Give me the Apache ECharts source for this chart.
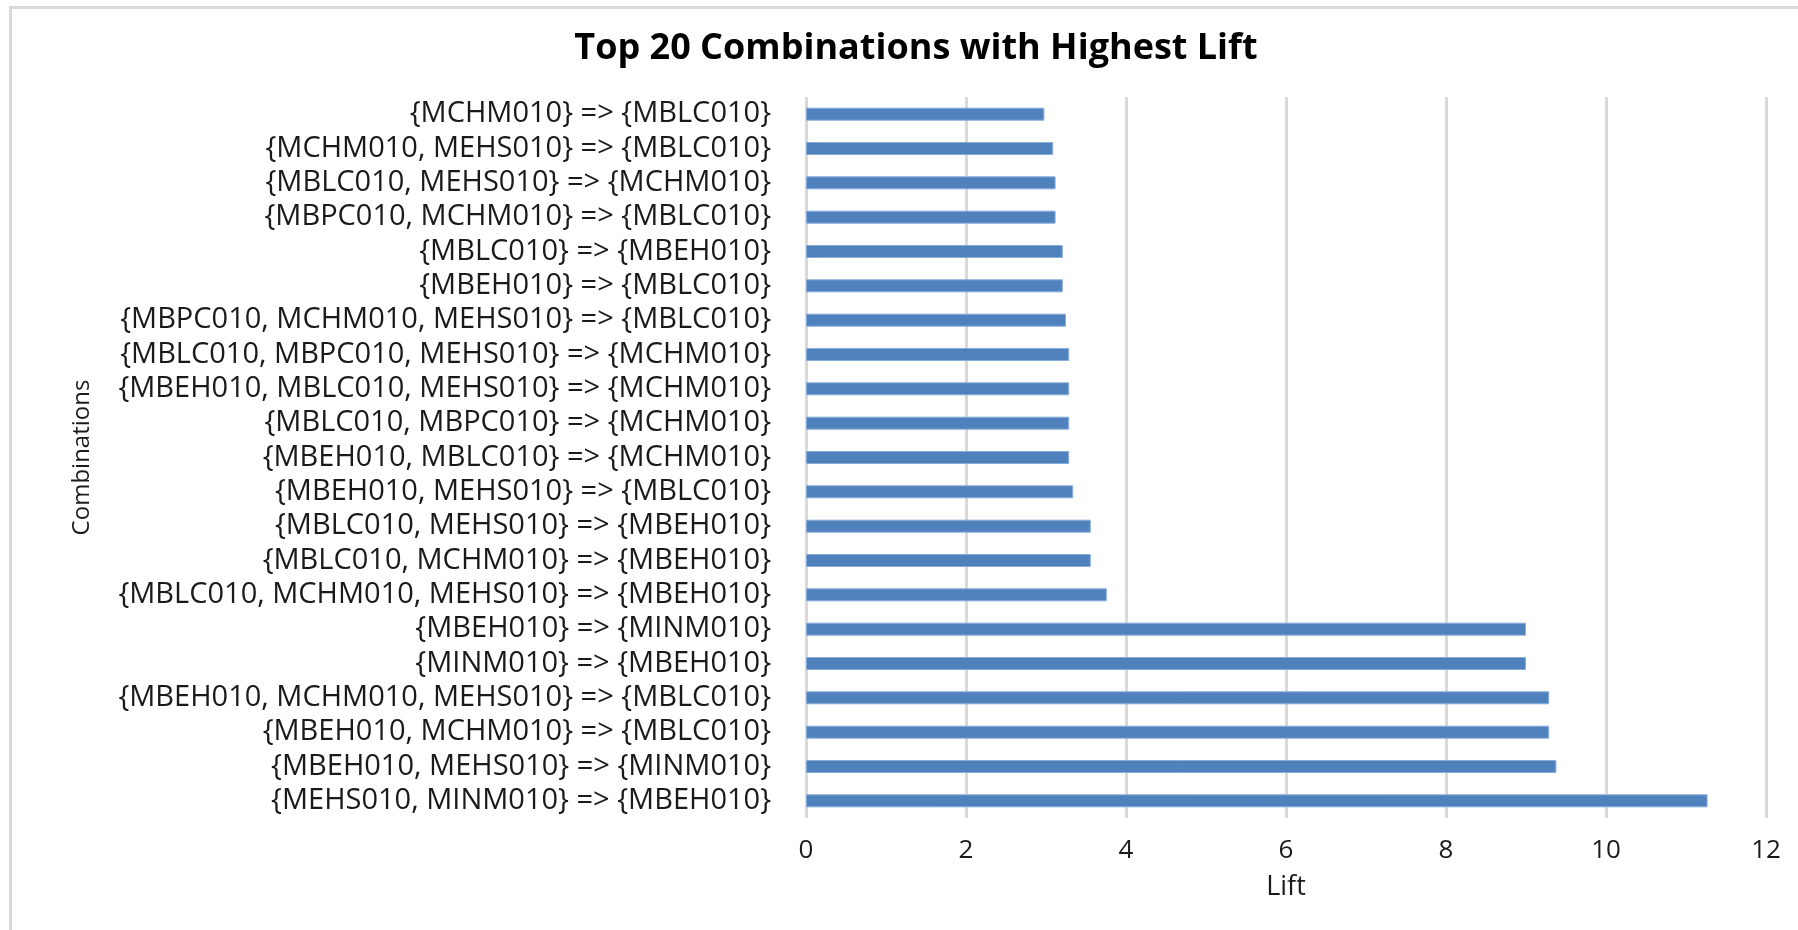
<!DOCTYPE html>
<html>
<head>
<meta charset="utf-8">
<title>Top 20 Combinations with Highest Lift</title>
<script src="https://cdn.jsdelivr.net/npm/echarts@6/dist/echarts.min.js"></script>
<style>
  html, body { margin: 0; padding: 0; background: #ffffff; }
  #chart { width: 1798px; height: 930px; }
</style>
</head>
<body>
<div id="chart"></div>
<script>
// Association rules, listed top to bottom as they appear on the axis
const rules = [
  '{MCHM010} => {MBLC010}',
  '{MCHM010, MEHS010} => {MBLC010}',
  '{MBLC010, MEHS010} => {MCHM010}',
  '{MBPC010, MCHM010} => {MBLC010}',
  '{MBLC010} => {MBEH010}',
  '{MBEH010} => {MBLC010}',
  '{MBPC010, MCHM010, MEHS010} => {MBLC010}',
  '{MBLC010, MBPC010, MEHS010} => {MCHM010}',
  '{MBEH010, MBLC010, MEHS010} => {MCHM010}',
  '{MBLC010, MBPC010} => {MCHM010}',
  '{MBEH010, MBLC010} => {MCHM010}',
  '{MBEH010, MEHS010} => {MBLC010}',
  '{MBLC010, MEHS010} => {MBEH010}',
  '{MBLC010, MCHM010} => {MBEH010}',
  '{MBLC010, MCHM010, MEHS010} => {MBEH010}',
  '{MBEH010} => {MINM010}',
  '{MINM010} => {MBEH010}',
  '{MBEH010, MCHM010, MEHS010} => {MBLC010}',
  '{MBEH010, MCHM010} => {MBLC010}',
  '{MBEH010, MEHS010} => {MINM010}',
  '{MEHS010, MINM010} => {MBEH010}'
];

// Lift of each rule, same order as above
const lift = [
  2.98, 3.09, 3.12, 3.12, 3.21, 3.21, 3.25, 3.29, 3.29, 3.29, 3.29,
  3.34, 3.56, 3.56, 3.76, 9.00, 9.00, 9.29, 9.29, 9.38, 11.27
];

const liftTicks = { min: 0, max: 12, interval: 2 };

const FONT = '"Open Sans", Lato, sans-serif';
const chart = echarts.init(document.getElementById('chart'), null, { renderer: 'canvas' });

chart.setOption({
  backgroundColor: '#ffffff',
  animation: false,
  title: {
    text: 'Top 20 Combinations with Highest Lift',
    left: 911,
    top: 26,
    textAlign: 'center',
    textStyle: { fontFamily: FONT, fontWeight: 'bold', fontSize: 36, color: '#000000' }
  },
  graphic: [{
    type: 'polyline',
    shape: { points: [[10.5, 940], [10.5, 7.5], [1800, 7.5]] },
    style: { stroke: '#d9d9d9', lineWidth: 3, fill: null },
    silent: true
  }],
  grid: { left: 806, right: 32, top: 97, bottom: 112, containLabel: false },
  xAxis: {
    type: 'value',
    min: liftTicks.min,
    max: liftTicks.max,
    interval: liftTicks.interval,
    name: 'Lift',
    nameLocation: 'middle',
    nameGap: 56,
    nameTextStyle: { fontFamily: FONT, fontSize: 27, color: '#1a1a1a' },
    axisLine: { show: false },
    axisTick: { show: false },
    axisLabel: { margin: 20, fontFamily: FONT, fontSize: 26, color: '#1a1a1a' },
    splitLine: { show: true, lineStyle: { color: '#d9d9d9', width: 3 } }
  },
  yAxis: {
    type: 'category',
    data: rules,
    inverse: true,
    name: 'Combinations',
    nameLocation: 'middle',
    nameGap: 712,
    nameRotate: 90,
    nameTextStyle: { fontFamily: FONT, fontSize: 24, color: '#1a1a1a' },
    axisLine: { show: false },
    axisTick: { show: false },
    axisLabel: {
      interval: 0,
      margin: 35,
      fontFamily: FONT,
      fontSize: 29,
      lineHeight: 32,
      color: '#1a1a1a'
    },
    splitLine: { show: false }
  },
  series: [{
    type: 'bar',
    data: lift,
    barWidth: 13,
    itemStyle: { color: '#4f81bd', borderColor: '#8aaedb', borderWidth: 1 },
    silent: true
  }]
});
</script>
</body>
</html>
